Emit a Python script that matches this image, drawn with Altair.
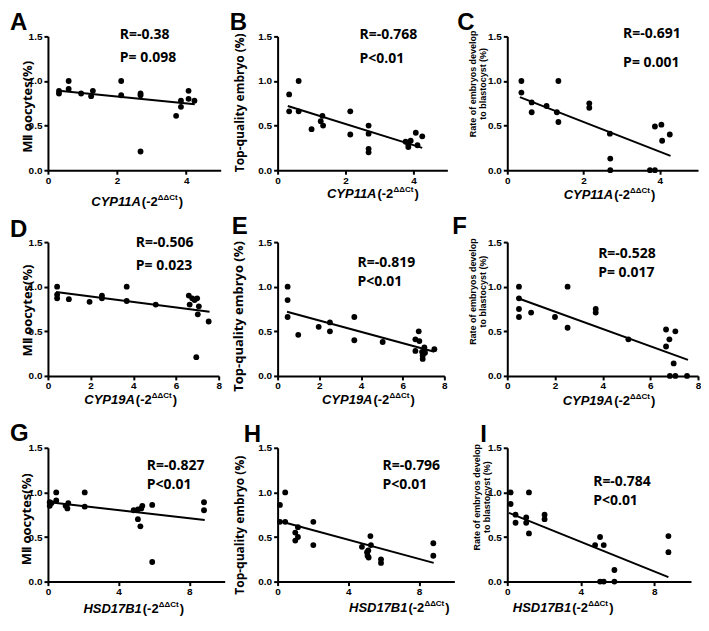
import altair as alt
import pandas as pd

# ---------------- data ----------------
# Row 1: CYP11A
A_x = [0.32, 0.32, 0.60, 0.60, 0.96, 1.25, 1.30, 2.12, 2.12, 2.68, 2.68, 2.68, 3.71, 3.85, 3.85, 4.07, 4.07, 4.24]
A_y = [0.89, 0.86, 1.00, 0.91, 0.86, 0.83, 0.89, 1.00, 0.84, 0.86, 0.84, 0.21, 0.61, 0.78, 0.71, 0.89, 0.80, 0.78]
A_fit_x = [0.32, 4.25]
A_fit_y = [0.89, 0.74]

B_x = [0.34, 0.34, 0.62, 0.62, 1.00, 1.27, 1.32, 1.34, 2.14, 2.14, 2.68, 2.68, 2.68, 2.68, 3.77, 3.85, 3.85, 3.92, 4.07, 4.12, 4.26]
B_y = [0.85, 0.66, 1.00, 0.66, 0.46, 0.55, 0.61, 0.50, 0.66, 0.40, 0.50, 0.41, 0.24, 0.20, 0.32, 0.29, 0.26, 0.33, 0.42, 0.28, 0.38]
B_fit_x = [0.30, 4.26]
B_fit_y = [0.72, 0.25]

C_x = [0.37, 0.37, 0.64, 0.64, 1.03, 1.30, 1.34, 1.34, 2.15, 2.15, 2.69, 2.70, 2.70, 3.74, 3.87, 3.87, 4.04, 4.06, 4.26]
C_y = [1.00, 0.87, 0.76, 0.65, 0.72, 0.65, 1.00, 0.54, 0.75, 0.70, 0.41, 0.13, 0.00, 0.00, 0.00, 0.49, 0.51, 0.33, 0.40]
C_fit_x = [0.33, 4.28]
C_fit_y = [0.82, 0.16]

# Row 2: CYP19A
D_x = [0.43, 0.43, 0.43, 0.98, 1.95, 2.53, 2.53, 3.69, 3.69, 5.05, 6.60, 6.64, 6.76, 6.87, 6.99, 7.07, 6.95, 7.02, 7.53]
D_y = [1.00, 0.91, 0.87, 0.86, 0.83, 0.90, 0.87, 1.00, 0.84, 0.80, 0.90, 0.80, 0.87, 0.85, 0.87, 0.78, 0.21, 0.69, 0.61]
D_fit_x = [0.38, 7.57]
D_fit_y = [0.94, 0.72]

E_x = [0.48, 0.48, 0.48, 0.99, 1.97, 2.51, 2.51, 3.68, 3.68, 5.04, 6.61, 6.61, 6.77, 6.80, 6.93, 6.96, 6.96, 7.04, 7.07, 7.52]
E_y = [1.00, 0.85, 0.66, 0.46, 0.55, 0.60, 0.50, 0.66, 0.40, 0.38, 0.41, 0.28, 0.50, 0.39, 0.27, 0.23, 0.19, 0.32, 0.26, 0.30]
E_fit_x = [0.45, 7.52]
E_fit_y = [0.72, 0.27]

F_x = [0.49, 0.49, 0.49, 0.49, 1.00, 2.00, 2.53, 2.53, 3.71, 3.71, 5.08, 6.66, 6.66, 6.80, 6.82, 6.98, 7.05, 7.05, 7.54]
F_y = [1.00, 0.87, 0.75, 0.66, 0.71, 0.66, 1.00, 0.54, 0.75, 0.71, 0.41, 0.52, 0.33, 0.41, 0.00, 0.14, 0.50, 0.00, 0.00]
F_fit_x = [0.45, 7.58]
F_fit_y = [0.87, 0.18]

# Row 3: HSD17B1
G_x = [0.10, 0.10, 0.20, 0.47, 0.47, 1.00, 1.10, 1.15, 2.08, 2.08, 4.85, 5.09, 5.09, 5.23, 5.28, 5.34, 5.90, 5.90, 8.83, 8.83]
G_y = [0.89, 0.85, 0.88, 1.00, 0.91, 0.85, 0.82, 0.88, 1.00, 0.84, 0.80, 0.81, 0.70, 0.62, 0.82, 0.85, 0.86, 0.22, 0.89, 0.80]
G_fit_x = [0.10, 8.87]
G_fit_y = [0.89, 0.69]

H_x = [0.13, 0.13, 0.43, 0.43, 1.00, 1.00, 1.15, 1.15, 2.02, 2.02, 4.77, 5.06, 5.09, 5.13, 5.15, 5.25, 5.28, 5.85, 5.85, 8.81, 8.81]
H_y = [0.86, 0.67, 1.00, 0.67, 0.55, 0.46, 0.61, 0.50, 0.67, 0.41, 0.39, 0.33, 0.29, 0.35, 0.27, 0.51, 0.41, 0.25, 0.21, 0.43, 0.29]
H_fit_x = [0.09, 8.83]
H_fit_y = [0.68, 0.21]

I_x = [0.18, 0.18, 0.45, 0.45, 1.03, 1.03, 1.18, 1.18, 2.03, 2.03, 4.78, 5.05, 5.05, 5.25, 5.25, 5.83, 5.83, 8.77, 8.77]
I_y = [1.00, 0.87, 0.75, 0.66, 0.72, 0.66, 1.00, 0.54, 0.75, 0.70, 0.41, 0.50, 0.00, 0.41, 0.00, 0.13, 0.00, 0.51, 0.33]
I_fit_x = [0.09, 8.77]
I_fit_y = [0.77, 0.05]

LETTERS = ["A", "B", "C", "D", "E", "F", "G", "H", "I"]
GENES = ["CYP11A", "CYP11A", "CYP11A", "CYP19A", "CYP19A", "CYP19A", "HSD17B1", "HSD17B1", "HSD17B1"]
X_MAX = [5, 5, 5, 8, 8, 8, 10, 10, 10]
X_STEP = [1, 1, 1, 2, 2, 2, 2, 2, 2]
Y_TITLES = ["MⅡ oocytes(%)", "Top-quality embryo (%)", ["Rate of embryos develop", "to blastocyst (%)"]] * 3
R_TEXT = ["R=-0.38", "R=-0.768", "R=-0.691", "R=-0.506", "R=-0.819", "R=-0.528", "R=-0.827", "R=-0.796", "R=-0.784"]
P_TEXT = ["P= 0.098", "P<0.01", "P= 0.001", "P= 0.023", "P<0.01", "P= 0.017", "P<0.01", "P<0.01", "P<0.01"]

POINTS = [(A_x, A_y), (B_x, B_y), (C_x, C_y), (D_x, D_y), (E_x, E_y), (F_x, F_y), (G_x, G_y), (H_x, H_y), (I_x, I_y)]
FITS = [(A_fit_x, A_fit_y), (B_fit_x, B_fit_y), (C_fit_x, C_fit_y), (D_fit_x, D_fit_y), (E_fit_x, E_fit_y),
        (F_fit_x, F_fit_y), (G_fit_x, G_fit_y), (H_fit_x, H_fit_y), (I_fit_x, I_fit_y)]

# ---------------- layout / style (pixels, relative to each plot) ----------------
WIDTHS = [173, 170, 191, 171, 167, 191, 177, 177, 184]
PLOT_H = 134
LETTER_POS = [(-38, -6), (-48, -6), (-50, -6), (-38, -5), (-46, -8), (-55, -8), (-38, -7), (-34, -6), (-27, -6)]
R_POS = [(72, 3, 26), (82, 3, 27), (116, 2, 31), (88, 5, 28), (80, 25, 44), (91, 16, 35), (99, 22, 41), (105, 22, 41), (86, 38, 57)]
XT_POS = [(93, 170), (99, 162), (106, 163), (87, 162), (95, 162), (106, 163), (94, 165), (130, 164), (64, 164)]
YT_POS = [(-13, 70, 13), (-31, 66, 12), (-30, 47, 9), (-13, 68, 13), (-32, 74, 13), (-30, 49, 9),
          (-14, 71, 13), (-31, 77, 12), (-26, 49, 9)]

TXT_FONT = "Open Sans"


def note(text, x, y, size, italic=False, align="left", font=TXT_FONT):
    return alt.Chart(pd.DataFrame({"t": [text]})).mark_text(
        font=font, fontSize=size, fontWeight="bold",
        fontStyle="italic" if italic else "normal",
        align=align, baseline="alphabetic", color="black",
    ).encode(x=alt.value(x), y=alt.value(y), text="t:N")


panels = []
for i in range(9):
    xs, ys = POINTS[i]
    fx, fy = FITS[i]
    pts = pd.DataFrame({"x": xs, "y": ys})
    fit = pd.DataFrame({"x": fx, "y": fy})
    xmax = X_MAX[i]
    xscale = alt.Scale(domain=[0, xmax], nice=False, zero=True)
    yscale = alt.Scale(domain=[0, 1.5], nice=False, zero=True)
    tx, ty, tfs = YT_POS[i]
    yaxis = alt.Axis(
        values=[0, 0.5, 1.0, 1.5], format=".1f", title=Y_TITLES[i],
        titleX=tx, titleY=ty, titleFontSize=tfs, titleLineHeight=tfs + 1,
        titleFont=TXT_FONT if tfs > 10 else "Liberation Sans",
        labelFlush=False,
    )
    xaxis = alt.Axis(values=list(range(0, xmax + 1, X_STEP[i])), format="d", title=None,
                     labelFlush=False, labelPadding=1)

    scatter = alt.Chart(pts).mark_circle(size=34, color="black", opacity=1).encode(
        x=alt.X("x:Q", scale=xscale, axis=xaxis),
        y=alt.Y("y:Q", scale=yscale, axis=yaxis),
    )
    line = alt.Chart(fit).mark_line(color="black", strokeWidth=2).encode(
        x=alt.X("x:Q", scale=xscale),
        y=alt.Y("y:Q", scale=yscale),
    )
    lx, ly = LETTER_POS[i]
    rx, ry, py = R_POS[i]
    sx, sy = XT_POS[i]
    layers = [
        scatter, line,
        note(LETTERS[i], lx, ly, 24, font="Liberation Sans"),
        note(R_TEXT[i], rx, ry, 14),
        note(P_TEXT[i], rx, py, 14),
        note(GENES[i], sx, sy, 13, italic=True, align="right", font="Liberation Sans"),
        note("(-2", sx + 1, sy, 13, font="Liberation Sans"),
        note("ΔΔCt", sx + 17, sy - 6, 8, font="Liberation Sans"),
        note(")", sx + 38, sy, 13, font="Liberation Sans"),
    ]
    panels.append(alt.layer(*layers).properties(width=WIDTHS[i], height=PLOT_H))

chart = alt.concat(
    *panels, columns=3, bounds="flush", align="all",
    spacing={"row": 72, "column": 39},
).properties(
    padding={"left": 2, "top": 3, "right": 0, "bottom": 0},
    background="white",
).configure_view(stroke=None).configure_axis(
    grid=False,
    domainColor="black", domainWidth=2,
    tickColor="black", tickWidth=2, tickSize=4,
    labelFont="Liberation Sans", labelFontWeight="bold", labelFontSize=10, labelColor="black",
    labelPadding=2,
    titleFontWeight="bold", titleColor="black",
)

chart.save("out.html", embed_options={"renderer": "svg", "actions": False})
